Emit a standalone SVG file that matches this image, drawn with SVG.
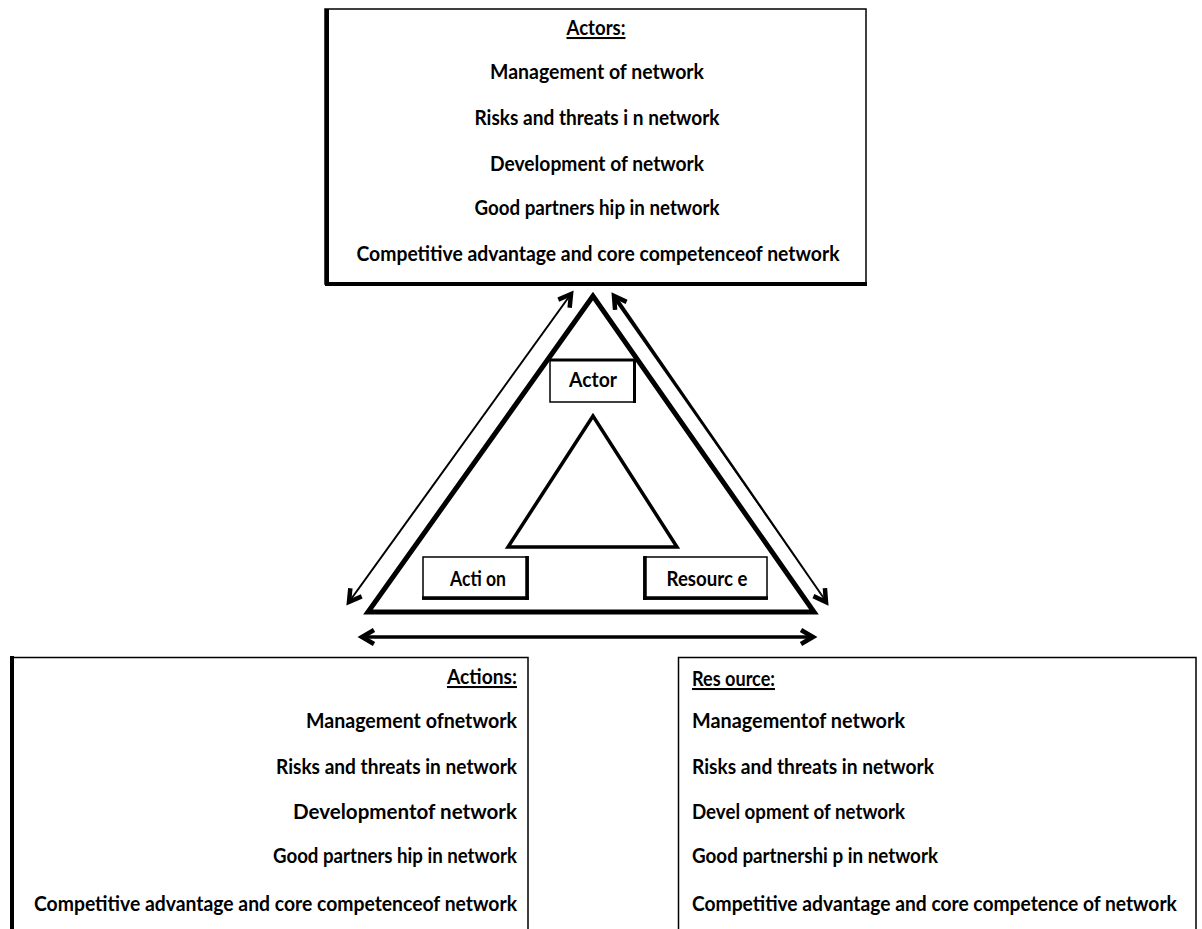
<svg xmlns="http://www.w3.org/2000/svg" width="1202" height="929" viewBox="0 0 1202 929">
  <defs>
    <style>
      .t { font-family: Lato, "Liberation Sans", sans-serif; font-weight: 700; font-size: 20.5px; fill: #000; }
      .mid { text-anchor: middle; }
      .end { text-anchor: end; }
      .u { text-decoration: underline; }
      .thin { fill: #fff; stroke: #000; stroke-width: 1.5; }
      .edge { stroke: #000; fill: none; }
      .tri { fill: none; stroke: #000; stroke-linejoin: miter; }
    </style>
    <!-- open chevron head shared by all double-headed connectors -->
    <marker id="head" markerUnits="userSpaceOnUse" markerWidth="30" markerHeight="30" refX="0" refY="0" viewBox="-16 -15 30 30" orient="auto-start-reverse" overflow="visible">
      <path d="M-12,-7 L0,0 L-12,7" fill="none" stroke="#000" stroke-width="4.5" stroke-linejoin="miter"/>
    </marker>
  </defs>

  <rect width="1202" height="929" fill="#fff"/>

  <!-- Actors panel -->
  <g id="actors-panel">
    <rect class="thin" x="325" y="9" width="541" height="275"/>
    <line class="edge" x1="327" y1="9" x2="327" y2="286" stroke-width="4"/>
    <line class="edge" x1="325" y1="284" x2="867" y2="284" stroke-width="4"/>
    <text class="t mid u" x="596" y="35" textLength="59" lengthAdjust="spacingAndGlyphs">Actors:</text>
    <text class="t mid" x="597" y="79" textLength="214" lengthAdjust="spacingAndGlyphs">Management of network</text>
    <text class="t mid" x="597" y="125" textLength="245" lengthAdjust="spacingAndGlyphs">Risks and threats i n network</text>
    <text class="t mid" x="597" y="171" textLength="214" lengthAdjust="spacingAndGlyphs">Development of network</text>
    <text class="t mid" x="597" y="215" textLength="245" lengthAdjust="spacingAndGlyphs">Good partners hip in network</text>
    <text class="t mid" x="598" y="261" textLength="483" lengthAdjust="spacingAndGlyphs">Competitive advantage and core competenceof network</text>
  </g>

  <!-- Actions panel -->
  <g id="actions-panel">
    <path class="edge" d="M12,930 V657.5 H528 V930" stroke-width="1.5"/>
    <line class="edge" x1="12" y1="656" x2="12" y2="930" stroke-width="4"/>
    <text class="t end u" x="517" y="684" textLength="70" lengthAdjust="spacingAndGlyphs">Actions:</text>
    <text class="t end" x="517" y="728" textLength="211" lengthAdjust="spacingAndGlyphs">Management ofnetwork</text>
    <text class="t end" x="517" y="774" textLength="241" lengthAdjust="spacingAndGlyphs">Risks and threats in network</text>
    <text class="t end" x="517" y="819" textLength="224" lengthAdjust="spacingAndGlyphs">Developmentof network</text>
    <text class="t end" x="517" y="863" textLength="244" lengthAdjust="spacingAndGlyphs">Good partners hip in network</text>
    <text class="t end" x="517" y="911" textLength="483" lengthAdjust="spacingAndGlyphs">Competitive advantage and core competenceof network</text>
  </g>

  <!-- Resource panel -->
  <g id="resource-panel">
    <path class="edge" d="M678.5,930 V657.5 H1196 V930" stroke-width="1.5"/>
    <text class="t u" x="692" y="686" textLength="83" lengthAdjust="spacingAndGlyphs">Res ource:</text>
    <text class="t" x="692" y="728" textLength="213" lengthAdjust="spacingAndGlyphs">Managementof network</text>
    <text class="t" x="692" y="774" textLength="242" lengthAdjust="spacingAndGlyphs">Risks and threats  in network</text>
    <text class="t" x="692" y="819" textLength="213" lengthAdjust="spacingAndGlyphs">Devel opment of network</text>
    <text class="t" x="692" y="863" textLength="246" lengthAdjust="spacingAndGlyphs">Good partnershi p in network</text>
    <!-- long line is narrowed horizontally so it stays inside the panel -->
    <text class="t" transform="translate(692,911) scale(0.88,1)" x="0" y="0" textLength="551" lengthAdjust="spacingAndGlyphs">Competitive advantage and core competence of network</text>
  </g>

  <!-- central triangles -->
  <g id="outer-triangle">
    <polygon class="tri" points="593,296 368,612 814,612" stroke-width="5"/>
  </g>
  <g id="inner-triangle">
    <polygon class="tri" points="593,416 508,547 677,547" stroke-width="3.5"/>
  </g>

  <!-- vertex labels -->
  <g id="actor-label">
    <rect class="thin" x="550" y="360" width="85" height="42"/>
    <line class="edge" x1="550" y1="360" x2="636" y2="360" stroke-width="3"/>
    <line class="edge" x1="634.5" y1="359" x2="634.5" y2="403" stroke-width="3"/>
    <text class="t mid" x="593" y="387" textLength="48" lengthAdjust="spacingAndGlyphs">Actor</text>
  </g>
  <g id="action-label">
    <rect class="thin" x="423" y="557" width="105" height="42"/>
    <line class="edge" x1="527" y1="556" x2="527" y2="600" stroke-width="3.5"/>
    <line class="edge" x1="422" y1="598" x2="529" y2="598" stroke-width="3.5"/>
    <text class="t mid" x="478" y="586" textLength="56" lengthAdjust="spacingAndGlyphs">Acti on</text>
  </g>
  <g id="resource-label">
    <rect class="thin" x="644" y="557" width="123" height="42"/>
    <line class="edge" x1="645" y1="556" x2="645" y2="600" stroke-width="3.5"/>
    <line class="edge" x1="643" y1="598" x2="768" y2="598" stroke-width="3.5"/>
    <text class="t mid" x="707" y="586" textLength="81" lengthAdjust="spacingAndGlyphs">Resourc e</text>
  </g>

  <!-- connectors -->
  <g id="connectors">
    <line x1="349" y1="602" x2="571" y2="294" stroke="#000" stroke-width="2" marker-start="url(#head)" marker-end="url(#head)"/>
    <line x1="614" y1="296" x2="826" y2="602" stroke="#000" stroke-width="1.2" marker-start="url(#head)" marker-end="url(#head)"/>
    <polygon points="615.8,294.9 612.2,297.3 826.6,602.3 827.4,601.7" fill="#000"/>
    <line x1="362" y1="637" x2="813" y2="637" stroke="#000" stroke-width="3.5" marker-start="url(#head)" marker-end="url(#head)"/>
  </g>
</svg>
